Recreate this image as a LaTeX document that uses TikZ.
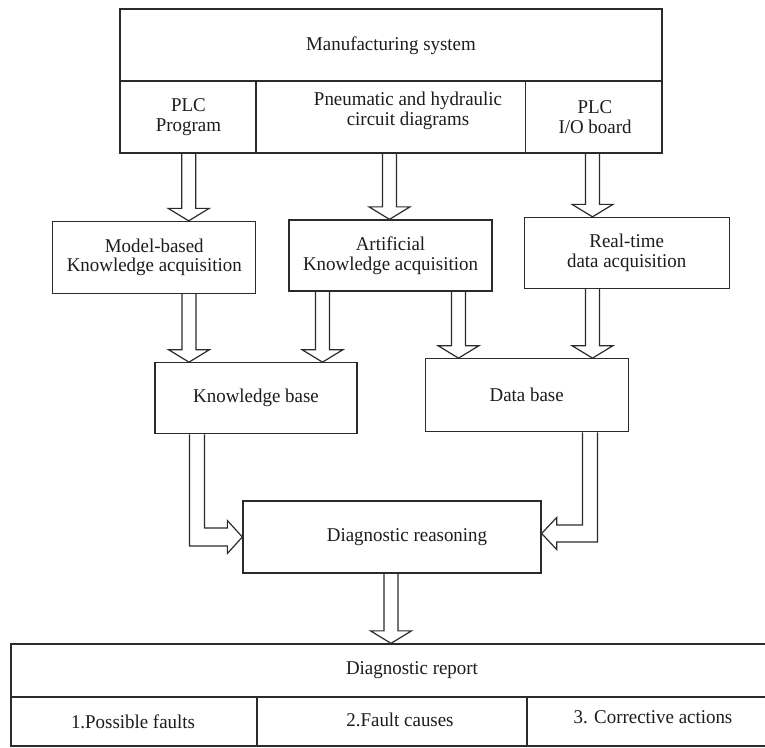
\documentclass[tikz,border=0pt]{standalone}
\usepackage{fontspec}
\setmainfont{Liberation Serif}[FakeStretch=0.97]
\usetikzlibrary{calc}

\definecolor{ink}{HTML}{2B2B2B}
\definecolor{txt}{HTML}{1C1C1C}

% Hollow block arrow pointing down: source node, target node, x of the shaft centre
\newcommand{\downblock}[3]{%
  \draw[blockarrow] let \p1=(#1.south), \p2=(#2.north) in
    (#3pt-7pt,\y1) -- (#3pt-7pt,\y2+12.5pt) -- (#3pt-20.5pt,\y2+12.5pt) -- (#3pt,\y2)
    -- (#3pt+20.5pt,\y2+12.5pt) -- (#3pt+7pt,\y2+12.5pt) -- (#3pt+7pt,\y1);}

\begin{document}
\begin{tikzpicture}[x=1pt,y=-1pt,
  every node/.style={text=txt, font=\fontsize{19.5}{19.5}\selectfont, align=center, inner sep=0pt},
  box/.style={draw=ink, line width=1.3pt, minimum height=72pt},
  rule/.style={draw=ink, line width=1.3pt},
  blockarrow/.style={draw=ink, line width=1.2pt, line join=miter}]

\useasboundingbox (0,0) rectangle (765,747);

% ---- manufacturing system ----
\node[box, minimum width=542pt, minimum height=144pt] (mfg) at (391,81) {};
\coordinate (m1) at (256,0);
\coordinate (m2) at (525.5,0);
\draw[rule] (mfg.west) -- (mfg.east);
\draw[rule] (m1 |- mfg.center) -- (m1 |- mfg.south);
\draw[rule] (m2 |- mfg.center) -- (m2 |- mfg.south);
\node (mfgtitle) at (391,46) {Manufacturing system};
\node (plcprog) at (188.5,117) {PLC\\Program};
\node (circuits) at (408,111) {Pneumatic and hydraulic\\circuit diagrams};
\node (plcio) at (595,117) {PLC\\I/O board};

% ---- acquisition ----
\node[box, minimum width=203pt] (model) at (154.3,257.5) {Model-based\\Knowledge acquisition};
\node[box, minimum width=203pt, minimum height=71pt] (artif) at (390.5,255.5) {Artificial\\Knowledge acquisition};
\node[box, minimum width=205pt, minimum height=71pt] (rt) at (626.7,253) {Real-time\\data acquisition};

% ---- bases ----
\node[box, minimum width=202pt, minimum height=71pt] (kb) at (256,398.3) {Knowledge base};
\node[box, minimum width=203pt, minimum height=73pt] (db) at (526.7,395.3) {Data base};

% ---- reasoning ----
\node[box, minimum width=298pt] (diag) at (392,537) {};
\node (diagtext) at (407,537) {Diagnostic reasoning};

% ---- report ----
\node[box, minimum width=779pt, minimum height=102pt] (report) at (400.5,695) {};
\coordinate (r0) at (0,697);
\coordinate (r1) at (257,0);
\coordinate (r2) at (527,0);
\draw[rule] (report.west |- r0) -- (report.east |- r0);
\draw[rule] (r1 |- r0) -- (r1 |- report.south);
\draw[rule] (r2 |- r0) -- (r2 |- report.south);
\node (reporttitle) at (412,670) {Diagnostic report};
\node (faults) at (133,722) {1.Possible faults};
\node (causes) at (400,720) {2.Fault causes};
\node (actions) at (653,717) {3. Corrective actions};

% ---- block arrows ----
\downblock{mfg}{model}{188.7}
\downblock{mfg}{artif}{389.5}
\downblock{mfg}{rt}{592.5}
\downblock{model}{kb}{189}
\downblock{artif}{kb}{322.5}
\downblock{artif}{db}{458.5}
\downblock{rt}{db}{592.5}
\downblock{diag}{report}{391}

% knowledge base -> reasoning (elbow into the left side)
\draw[blockarrow] let \p1=(kb.south), \p2=(diag.west) in
  (197pt-7.5pt,\y1) -- (197pt-7.5pt,\y2-9pt) -- (\x2-15pt,\y2-9pt) -- (\x2-15pt,\y2-16.5pt)
  -- (\x2,\y2) -- (\x2-15pt,\y2+16.5pt) -- (\x2-15pt,\y2+9pt) -- (197pt+7.5pt,\y2+9pt)
  -- (197pt+7.5pt,\y1);

% data base -> reasoning (elbow into the right side)
\draw[blockarrow] let \p1=(db.south), \p2=(diag.east) in
  (590pt+7.5pt,\y1) -- (590pt+7.5pt,\y2-5pt) -- (\x2+15pt,\y2-5pt) -- (\x2+15pt,\y2-12.5pt)
  -- (\x2,\y2+3.5pt) -- (\x2+15pt,\y2+19.5pt) -- (\x2+15pt,\y2+12pt) -- (590pt-7.5pt,\y2+12pt)
  -- (590pt-7.5pt,\y1);

\end{tikzpicture}
\end{document}
